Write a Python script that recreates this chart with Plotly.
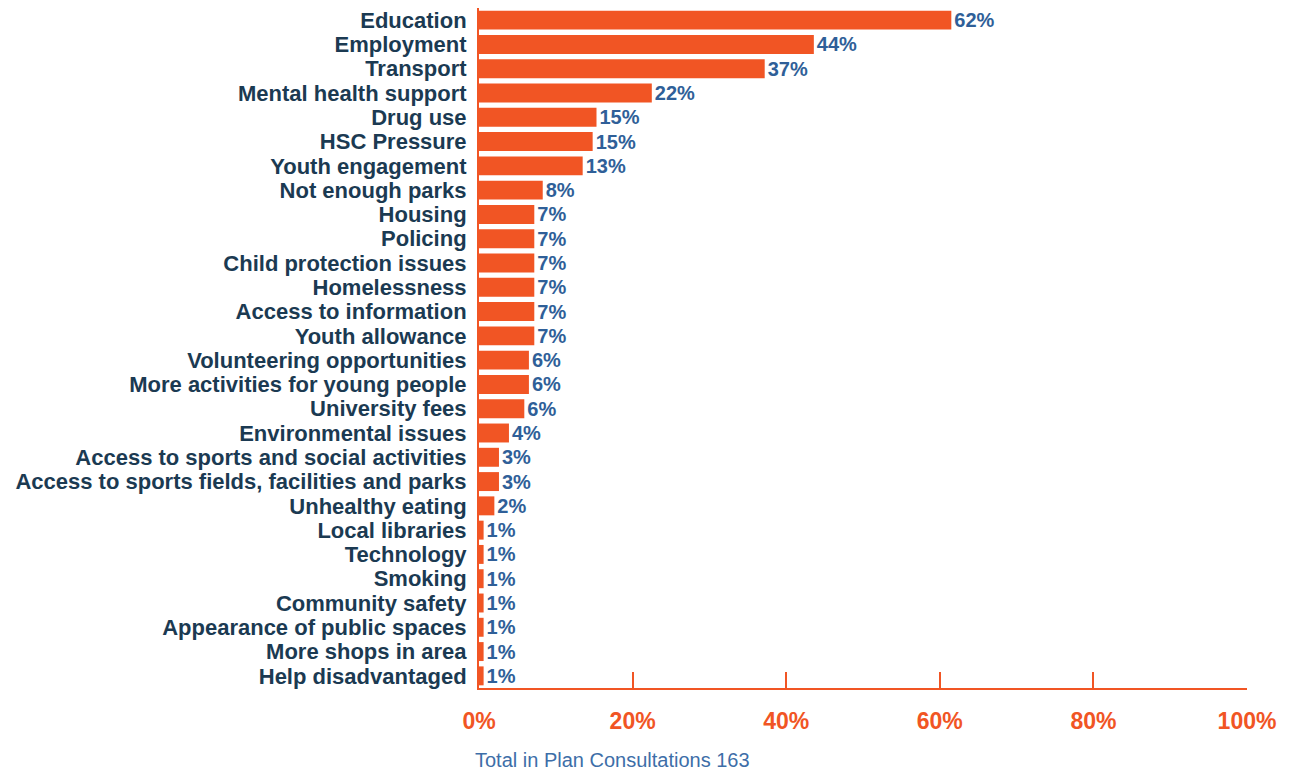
import plotly.graph_objects as go

# Issues raised in consultations, top to bottom
categories = [
    "Education", "Employment", "Transport", "Mental health support", "Drug use",
    "HSC Pressure", "Youth engagement", "Not enough parks", "Housing", "Policing",
    "Child protection issues", "Homelessness", "Access to information",
    "Youth allowance", "Volunteering opportunities", "More activities for young people",
    "University fees", "Environmental issues", "Access to sports and social activities",
    "Access to sports fields, facilities and parks", "Unhealthy eating",
    "Local libraries", "Technology", "Smoking", "Community safety",
    "Appearance of public spaces", "More shops in area", "Help disadvantaged",
]
values = [
    61.5, 43.6, 37.2, 22.5, 15.3, 14.8, 13.5, 8.3, 7.2, 7.2,
    7.2, 7.2, 7.2, 7.2, 6.5, 6.5, 5.9, 3.9, 2.6, 2.6, 2.0,
    0.6, 0.6, 0.6, 0.6, 0.6, 0.6, 0.6,
]
labels = [
    "62%", "44%", "37%", "22%", "15%", "15%", "13%", "8%", "7%", "7%",
    "7%", "7%", "7%", "7%", "6%", "6%", "6%", "4%", "3%", "3%", "2%",
    "1%", "1%", "1%", "1%", "1%", "1%", "1%",
]
tick_vals = [0, 20, 40, 60, 80, 100]
tick_text = ["0%", "20%", "40%", "60%", "80%", "100%"]
footer = "Total in Plan Consultations 163"

ORANGE = "#F15524"
NAVY = "#1B3A52"
BLUE = "#2F5F98"
FONT = "Arial, Liberation Sans, sans-serif"

fig = go.Figure(
    go.Bar(
        x=values,
        y=categories,
        orientation="h",
        marker=dict(color=ORANGE, line=dict(width=0)),
        text=labels,
        textposition="outside",
        constraintext="none",
        cliponaxis=False,
        textfont=dict(family=FONT, size=20, color=BLUE, weight="bold"),
    )
)

# page body adds ~8px offset, so the figure is a little smaller than the window
fig.update_layout(
    width=1284,
    height=765,
    margin=dict(l=471, r=45, t=0, b=85),
    paper_bgcolor="white",
    plot_bgcolor="white",
    bargap=0.22,
    showlegend=False,
    font=dict(family=FONT),
)

fig.update_xaxes(
    range=[0, 100],
    tickvals=tick_vals,
    ticktext=tick_text,
    ticks="inside",
    ticklen=16,
    tickwidth=2,
    tickcolor=ORANGE,
    showline=True,
    linecolor=ORANGE,
    linewidth=2,
    showgrid=False,
    zeroline=False,
    ticklabelstandoff=11,
    tickfont=dict(family=FONT, size=23, color=ORANGE, weight="bold"),
)
fig.update_yaxes(
    autorange="reversed",
    tickmode="array",
    tickvals=categories,
    showline=True,
    linecolor=ORANGE,
    linewidth=2,
    showgrid=False,
    ticks="",
    ticklabelstandoff=6,
    tickfont=dict(family=FONT, size=22, color=NAVY, weight="bold"),
)

fig.add_annotation(
    text=footer,
    xref="paper", yref="paper",
    x=0, y=0,
    xanchor="left", yanchor="middle",
    xshift=-6, yshift=-72,
    showarrow=False,
    font=dict(family=FONT, size=20, color="#3D6EA8"),
)

fig.write_html("out.html")
